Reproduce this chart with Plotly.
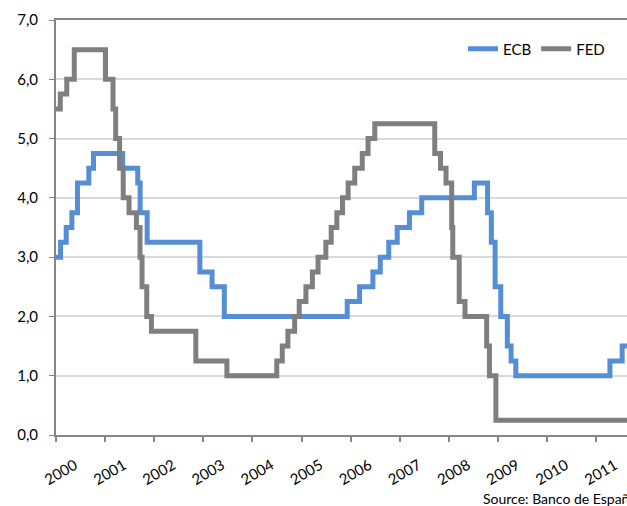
import plotly.graph_objects as go

# ECB main refinancing rate (change dates, rate in %)
ecb_dates = ["2000-01-01", "2000-02-04", "2000-03-17", "2000-04-28", "2000-06-09",
             "2000-09-01", "2000-10-06", "2001-05-11", "2001-08-31", "2001-09-18",
             "2001-11-09", "2002-12-06", "2003-03-07", "2003-06-06", "2005-12-06",
             "2006-03-08", "2006-06-15", "2006-08-09", "2006-10-11", "2006-12-13",
             "2007-03-14", "2007-06-13", "2008-07-09", "2008-10-15", "2008-11-12",
             "2008-12-10", "2009-01-21", "2009-03-11", "2009-04-08", "2009-05-13",
             "2011-04-13", "2011-07-13", "2011-12-31"]
ecb_rates = [3.00, 3.25, 3.50, 3.75, 4.25,
             4.50, 4.75, 4.50, 4.25, 3.75,
             3.25, 2.75, 2.50, 2.00, 2.25,
             2.50, 2.75, 3.00, 3.25, 3.50,
             3.75, 4.00, 4.25, 3.75, 3.25,
             2.50, 2.00, 1.50, 1.25, 1.00,
             1.25, 1.50, 1.50]

# Fed funds target rate (change dates, rate in %)
fed_dates = ["2000-01-01", "2000-02-02", "2000-03-21", "2000-05-16", "2001-01-03",
             "2001-02-28", "2001-03-20", "2001-04-18", "2001-05-15", "2001-06-27",
             "2001-08-21", "2001-09-17", "2001-10-02", "2001-11-06", "2001-12-11",
             "2002-11-06", "2003-06-25", "2004-06-30", "2004-08-10", "2004-09-21",
             "2004-11-10", "2004-12-14", "2005-02-02", "2005-03-22", "2005-05-03",
             "2005-06-30", "2005-08-09", "2005-09-20", "2005-11-01", "2005-12-13",
             "2006-01-31", "2006-03-28", "2006-05-10", "2006-06-29", "2007-09-18",
             "2007-10-31", "2007-12-11", "2008-01-22", "2008-01-30", "2008-03-18",
             "2008-04-30", "2008-10-08", "2008-10-29", "2008-12-16", "2011-12-31"]
fed_rates = [5.50, 5.75, 6.00, 6.50, 6.00,
             5.50, 5.00, 4.50, 4.00, 3.75,
             3.50, 3.00, 2.50, 2.00, 1.75,
             1.25, 1.00, 1.25, 1.50, 1.75,
             2.00, 2.25, 2.50, 2.75, 3.00,
             3.25, 3.50, 3.75, 4.00, 4.25,
             4.50, 4.75, 5.00, 5.25, 4.75,
             4.50, 4.25, 3.50, 3.00, 2.25,
             2.00, 1.50, 1.00, 0.25, 0.25]

years = list(range(2000, 2012))
year_labels = [str(y) for y in years]
label_pos = [f"{y}-05-20" for y in years]

ECB_COLOR = "#558ED5"
FED_COLOR = "#7F7F7F"
FONT = "Lato"

fig = go.Figure()
fig.add_trace(go.Scatter(x=ecb_dates, y=ecb_rates, name="ECB", mode="lines",
                         line=dict(color=ECB_COLOR, width=5, shape="hv")))
fig.add_trace(go.Scatter(x=fed_dates, y=fed_rates, name="FED", mode="lines",
                         line=dict(color=FED_COLOR, width=5, shape="hv")))

fig.update_layout(
    width=627, height=506,
    margin=dict(l=56, r=0, t=20, b=71),
    paper_bgcolor="white", plot_bgcolor="white",
    separators=",.",
    font=dict(family=FONT, size=15, color="#000000"),
    showlegend=True,
    legend=dict(orientation="h", x=(610 - 56) / 571, xanchor="right", y=0.93, yanchor="middle",
                font=dict(size=15, family=FONT), bgcolor="rgba(0,0,0,0)",
                itemwidth=30, tracegroupgap=0),
    xaxis=dict(
        type="date", automargin=False,
        range=["2000-01-01", "2011-08-18"],
        tickvals=label_pos, ticktext=year_labels,
        tickangle=-30, ticks="", showgrid=False, zeroline=False,
        showline=True, linecolor="#868686", linewidth=2, mirror=True,
        ticklabelstandoff=14,
        tickfont=dict(size=15),
        minor=dict(dtick="M12", tick0="2000-01-01", ticks="outside",
                   ticklen=5, tickcolor="#868686", tickwidth=1.5, showgrid=False),
    ),
    yaxis=dict(
        automargin=False,
        range=[0, 7], dtick=1, tickformat=".1f",
        showgrid=True, gridcolor="#D9D9D9", gridwidth=1.5,
        zeroline=False, showline=True, linecolor="#868686", linewidth=2,
        ticks="outside", ticklen=5, tickcolor="#868686",
        ticklabelstandoff=8,
        tickfont=dict(size=15),
    ),
)

fig.add_annotation(text="Source: Banco de España", xref="paper", yref="paper",
                   x=(481 - 56) / 571, y=-(498 - 435) / 415, xanchor="left",
                   yanchor="middle", showarrow=False,
                   font=dict(size=14, family=FONT, color="#000000"))

fig.write_html("out.html", config={"displayModeBar": False},
               post_script="document.body.style.margin='0px';")
